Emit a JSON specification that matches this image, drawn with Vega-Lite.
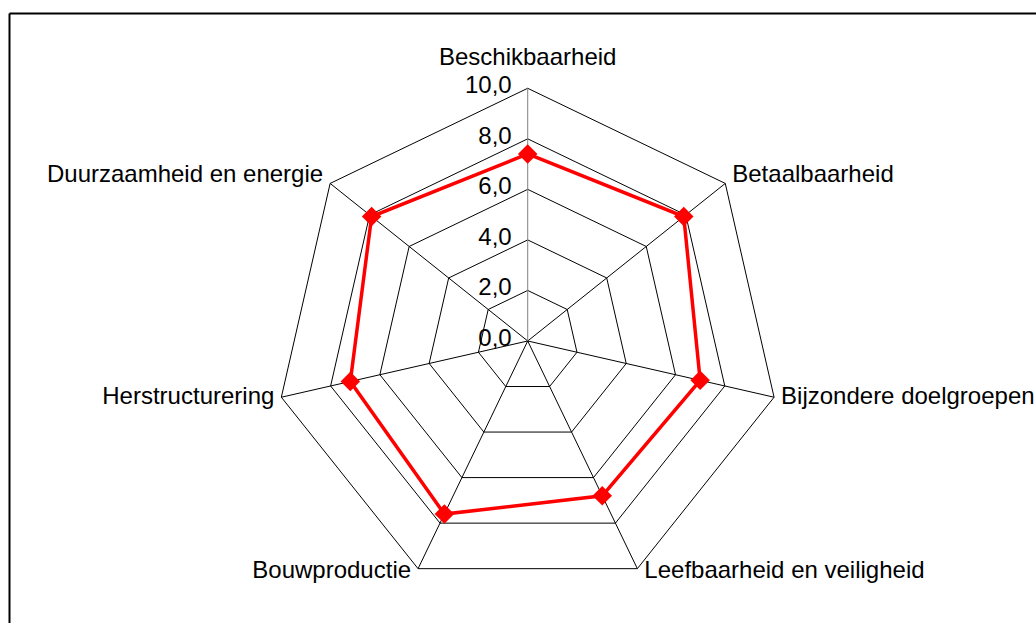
{
  "$schema": "https://vega.github.io/schema/vega-lite/v6.json",
  "width": 1036,
  "height": 623,
  "autosize": {"type": "none"},
  "padding": 0,
  "background": "white",
  "config": {"view": {"stroke": null}, "font": "Liberation Sans"},
  "datasets": {
    "cats": [
      {"cat": "Beschikbaarheid", "idx": 0, "value": 7.4},
      {"cat": "Betaalbaarheid", "idx": 1, "value": 7.9},
      {"cat": "Bijzondere doelgroepen", "idx": 2, "value": 7.0},
      {"cat": "Leefbaarheid en veiligheid", "idx": 3, "value": 6.8},
      {"cat": "Bouwproductie", "idx": 4, "value": 7.6},
      {"cat": "Herstructurering", "idx": 5, "value": 7.2},
      {"cat": "Duurzaamheid en energie", "idx": 6, "value": 7.9}
    ],
    "grid": [
      {"level": 2, "idx": [0, 1, 2, 3, 4, 5, 6]},
      {"level": 4, "idx": [0, 1, 2, 3, 4, 5, 6]},
      {"level": 6, "idx": [0, 1, 2, 3, 4, 5, 6]},
      {"level": 8, "idx": [0, 1, 2, 3, 4, 5, 6]},
      {"level": 10, "idx": [0, 1, 2, 3, 4, 5, 6]}
    ],
    "ticks": [
      {"v": 0, "t": "0,0"},
      {"v": 2, "t": "2,0"},
      {"v": 4, "t": "4,0"},
      {"v": 6, "t": "6,0"},
      {"v": 8, "t": "8,0"},
      {"v": 10, "t": "10,0"}
    ]
  },
  "encoding": {
    "x": {"field": "px", "type": "quantitative", "scale": {"domain": [-20.883, 20.115], "nice": false, "zero": false}, "axis": null},
    "y": {"field": "py", "type": "quantitative", "scale": {"domain": [-11.16, 13.494], "nice": false, "zero": false}, "axis": null}
  },
  "layer": [
    {
      "data": {"name": "grid"},
      "transform": [
        {"flatten": ["idx"]},
        {"calculate": "datum.level * sin(datum.idx * 2 * PI / 7)", "as": "px"},
        {"calculate": "datum.level * cos(datum.idx * 2 * PI / 7)", "as": "py"}
      ],
      "mark": {"type": "line", "interpolate": "linear-closed", "stroke": "#000000", "strokeWidth": 1},
      "encoding": {
        "detail": {"field": "level", "type": "nominal"},
        "order": {"field": "idx", "type": "quantitative"}
      }
    },
    {
      "data": {"name": "cats"},
      "transform": [
        {"filter": "datum.idx > 0"},
        {"calculate": "10 * sin(datum.idx * 2 * PI / 7)", "as": "px"},
        {"calculate": "10 * cos(datum.idx * 2 * PI / 7)", "as": "py"},
        {"calculate": "0", "as": "zero"}
      ],
      "mark": {"type": "rule", "stroke": "#000000", "strokeWidth": 1},
      "encoding": {
        "x2": {"field": "zero"},
        "y2": {"field": "zero"}
      }
    },
    {
      "data": {"name": "cats"},
      "transform": [
        {"filter": "datum.idx == 0"},
        {"calculate": "0", "as": "px"},
        {"calculate": "10", "as": "py"},
        {"calculate": "0", "as": "zero"}
      ],
      "mark": {"type": "rule", "stroke": "#808080", "strokeWidth": 1},
      "encoding": {
        "x2": {"field": "zero"},
        "y2": {"field": "zero"}
      }
    },
    {
      "data": {"name": "cats"},
      "transform": [
        {"calculate": "datum.value * sin(datum.idx * 2 * PI / 7)", "as": "px"},
        {"calculate": "datum.value * cos(datum.idx * 2 * PI / 7)", "as": "py"}
      ],
      "mark": {"type": "line", "interpolate": "linear-closed", "stroke": "#FF0000", "strokeWidth": 3.5},
      "encoding": {
        "order": {"field": "idx", "type": "quantitative"}
      }
    },
    {
      "data": {"name": "cats"},
      "transform": [
        {"calculate": "datum.value * sin(datum.idx * 2 * PI / 7)", "as": "px"},
        {"calculate": "datum.value * cos(datum.idx * 2 * PI / 7)", "as": "py"}
      ],
      "mark": {"type": "point", "shape": "diamond", "filled": true, "fill": "#FF0000", "size": 380, "opacity": 1, "strokeWidth": 0}
    },
    {
      "data": {"name": "cats"},
      "transform": [
        {"calculate": "10 * sin(datum.idx * 2 * PI / 7)", "as": "px"},
        {"calculate": "10 * cos(datum.idx * 2 * PI / 7)", "as": "py"}
      ],
      "mark": {
        "type": "text",
        "fontSize": 24,
        "fill": "#000000",
        "baseline": "middle",
        "align": {"expr": "datum.idx == 0 ? 'center' : (datum.idx < 4 ? 'left' : 'right')"},
        "dx": {"expr": "datum.idx == 0 ? 0 : (datum.idx < 4 ? 7 : -7)"},
        "dy": {"expr": "datum.idx == 0 ? -30 : ((datum.idx == 1 || datum.idx == 6) ? -8 : ((datum.idx == 2 || datum.idx == 5) ? 0 : 2))"}
      },
      "encoding": {
        "text": {"field": "cat", "type": "nominal"}
      }
    },
    {
      "data": {"name": "ticks"},
      "transform": [
        {"calculate": "0", "as": "px"},
        {"calculate": "datum.v", "as": "py"}
      ],
      "mark": {"type": "text", "fontSize": 24, "fill": "#000000", "align": "right", "baseline": "middle", "dx": -16, "dy": -2},
      "encoding": {
        "text": {"field": "t", "type": "nominal"}
      }
    },
    {
      "data": {"values": [{"px": -20.507, "py": -11.16, "py2": 12.96}]},
      "mark": {"type": "rule", "stroke": "#000000", "strokeWidth": 2},
      "encoding": {
        "y2": {"field": "py2"}
      }
    },
    {
      "data": {"values": [{"px": -20.507, "px2": 20.115, "py": 12.96}]},
      "mark": {"type": "rule", "stroke": "#000000", "strokeWidth": 2},
      "encoding": {
        "x2": {"field": "px2"}
      }
    }
  ]
}
